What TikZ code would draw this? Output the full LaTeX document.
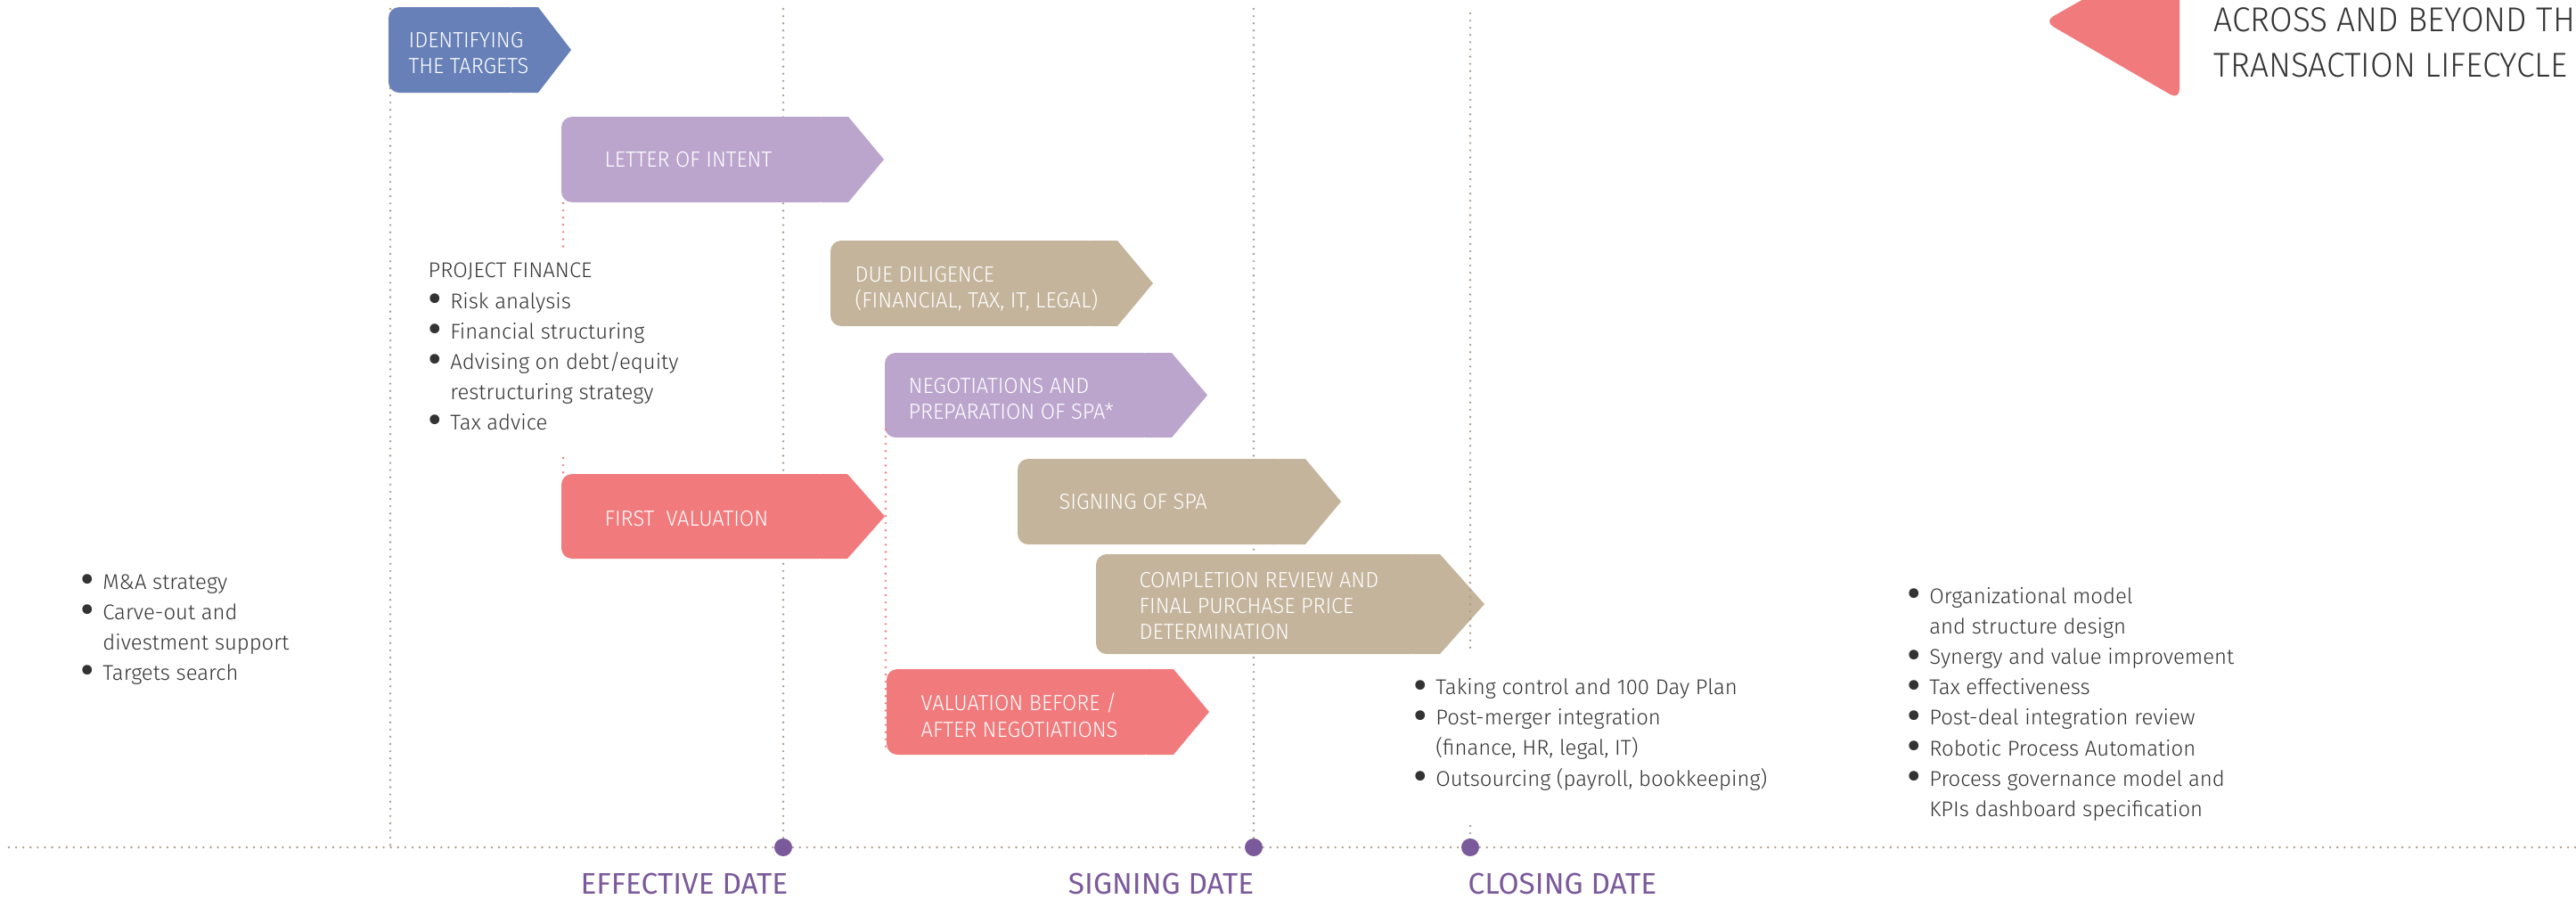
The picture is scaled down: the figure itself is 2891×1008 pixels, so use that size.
\documentclass[tikz,border=0pt]{standalone}
\usepackage{fontspec}
\setmainfont{Fira Sans}
\newfontfamily\condfont{Fira Sans}[UprightFont={* Light}, FakeStretch=0.96]
\newfontfamily\listfont{Fira Sans}[UprightFont={* Light}]
\usetikzlibrary{positioning}

\definecolor{boxblue}{HTML}{6781B8}
\definecolor{boxlilac}{HTML}{BBA5CD}
\definecolor{boxsand}{HTML}{C4B49C}
\definecolor{boxcoral}{HTML}{F17A7C}
\definecolor{datepurple}{HTML}{7B5A9B}
\definecolor{dotgrey}{HTML}{A99B8D}
\definecolor{inkgrey}{HTML}{333333}

\newcommand\itemdot{\makebox[7pt][l]{\rmfamily\raisebox{-1.5pt}{\scalebox{2}{\textbullet}}}}
\newcommand\itemgap{\hspace*{7pt}}

\begin{document}
\begin{tikzpicture}[
		x=0.01cm, y=-0.01cm,
		dotline/.style={draw=dotgrey, line width=0.75pt, line cap=round, dash pattern=on 0pt off 2.3pt},
		reddots/.style={dotline, draw=boxcoral},
		phasetext/.style={anchor=west, align=left, inner sep=0pt, text=white, font=\condfont\fontsize{7}{8.3}\selectfont, execute at begin node=\strut, execute at end node=\strut},
		bullets/.style={anchor=west, align=left, inner sep=0pt, text=inkgrey, font=\listfont\fontsize{6.8}{9.7}\selectfont, execute at begin node=\strut, execute at end node=\strut},
		datedot/.style={circle, fill=datepurple, inner sep=0pt, minimum size=0.2cm},
		datelabel/.style={inner sep=0pt, text=datepurple, font=\fontsize{9.5}{11}\selectfont},
	]
		\useasboundingbox (0,0) rectangle (2891,1008);

		% time line
		\node[datedot] (effdot) at (879,951) {};
		\node[datedot] (signdot) at (1407,951) {};
		\node[datedot] (closedot) at (1650,951) {};
		\coordinate (tlstart) at (10,951);
		\coordinate (tlend) at (2891,951);
		\draw[dotline] (tlstart) -- (effdot) -- (signdot) -- (closedot) -- (tlend);

		\coordinate (identtop) at (438,10);
		\coordinate (identfoot) at (438,951);
		\coordinate (efftop) at (879,10);
		\coordinate (signtop) at (1407,10);
		\draw[dotline] (identtop) -- (identfoot);
		\draw[dotline] (efftop) -- (effdot);
		\draw[dotline] (signtop) -- (signdot);

		% phases
		\foreach \lx/\ty/\rx/\by/\tip/\col in {436/8/604/104/37/boxblue, 630/131/952/227/40/boxlilac, 932/270/1254/366/40/boxsand, 993/396/1315/491/40/boxlilac, 630/532/951/627/42/boxcoral, 1142/515/1465/611/40/boxsand, 1230/622/1616/734/50/boxsand, 995/751/1317/847/40/boxcoral}{
			\fill[fill=\col, rounded corners=3.4pt] (\lx,\ty) rectangle (\rx-20,\by);
			\fill[fill=\col] (\rx-30,\ty) -- (\rx,\ty) -- ({\rx+\tip},{(\ty+\by)/2}) -- (\rx,\by) -- (\rx-30,\by) -- cycle;
		}

		\node[phasetext] (ident) at (458,64) {IDENTIFYING\\THE TARGETS};
		\node[phasetext] (loi) at (678,182) {LETTER OF INTENT};
		\node[phasetext] (dd) at (959,327) {DUE DILIGENCE\\(FINANCIAL, TAX, IT, LEGAL)};
		\node[phasetext] (neg) at (1019,452) {NEGOTIATIONS AND\\PREPARATION OF SPA*};
		\node[phasetext] (fval) at (678,585) {FIRST\ \ VALUATION};
		\node[phasetext] (spa) at (1188,566) {SIGNING OF SPA};
		\node[phasetext] (comp) at (1278,684) {COMPLETION REVIEW AND\\FINAL PURCHASE PRICE\\DETERMINATION};
		\node[phasetext] (vba) at (1033,807) {VALUATION BEFORE /\\AFTER NEGOTIATIONS};

		\coordinate (loifoot) at (632,228);
		\coordinate (pfabove) at (632,281);
		\coordinate (pfbelow) at (632,514);
		\coordinate (fvaltop) at (632,531);
		\coordinate (negfoot) at (994,482);
		\coordinate (vbafoot) at (994,838);
		\draw[reddots] (loifoot) -- (pfabove);
		\draw[reddots] (pfbelow) -- (fvaltop);
		\draw[reddots] (negfoot) -- (vbafoot);

		\coordinate (closetop) at (1650,15);
		\coordinate (compfoot) at (1650,734);
		\coordinate (listfoot) at (1650,927);
		\draw[dotline] (closetop) -- (compfoot);
		\draw[dotline] (listfoot) -- (closedot);

		\node[datelabel, anchor=east] (efflabel) at (885,992) {EFFECTIVE DATE};
		\node[datelabel, anchor=east] (signlabel) at (1408,992) {SIGNING DATE};
		\node[datelabel, anchor=west] (closelabel) at (1647,992) {CLOSING DATE};

		% services
		\node[bullets] (strategy) at (90,709) {\itemdot M\&A strategy\\\itemdot Carve-out and\\\itemgap divestment support\\\itemdot Targets search};
		\node[bullets] (finance) at (480,394) {PROJECT FINANCE\\\itemdot Risk analysis\\\itemdot Financial structuring\\\itemdot Advising on debt/equity\\\itemgap restructuring strategy\\\itemdot Tax advice};
		\node[bullets] (closing) at (1586,827) {\itemdot Taking control and 100 Day Plan\\\itemdot Post-merger integration\\\itemgap (finance, HR, legal, IT)\\\itemdot Outsourcing (payroll, bookkeeping)};
		\node[bullets] (beyond) at (2140,793) {\itemdot Organizational model\\\itemgap and structure design\\\itemdot Synergy and value improvement\\\itemdot Tax effectiveness\\\itemdot Post-deal integration review\\\itemdot Robotic Process Automation\\\itemdot Process governance model and\\\itemgap KPIs dashboard specification};

		% heading
		\fill[boxcoral, rounded corners=3.4pt] (2446,-62) -- (2294,24) -- (2446,112) -- cycle;
		\node[anchor=west, align=left, inner sep=0pt, text=inkgrey, font=\condfont\fontsize{11}{14.5}\selectfont] (heading) at (2484,48) {ACROSS AND BEYOND THE\\TRANSACTION LIFECYCLE};
	\end{tikzpicture}
\end{document}
